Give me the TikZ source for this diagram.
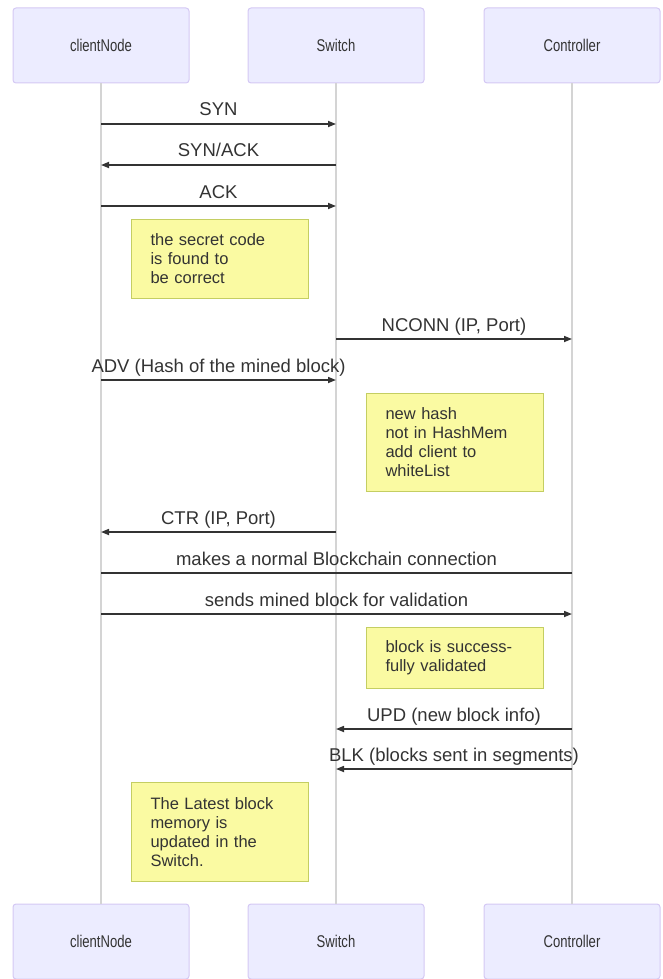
\documentclass[tikz,border=0pt]{standalone}
\usepackage{fontspec}
\setmainfont{Liberation Sans}
\usetikzlibrary{arrows.meta}
\definecolor{actfill}{RGB}{236,236,255}
\definecolor{actdraw}{RGB}{212,200,244}
\definecolor{notefill}{RGB}{250,250,162}
\definecolor{notedraw}{RGB}{196,206,98}
\definecolor{ink}{RGB}{51,51,51}
\definecolor{lifegray}{RGB}{212,212,212}
\tikzset{
  actor/.style={draw=actdraw, fill=actfill, line width=1pt, rounded corners=3pt,
    minimum width=176pt, minimum height=75pt, inner sep=0pt, text=ink,
    font=\fontsize{17}{20}\selectfont},
  life/.style={draw=lifegray, line width=1.5pt},
  msg/.style={draw=ink, line width=1.6pt, -{Triangle[length=8pt,width=6pt]}},
  plainmsg/.style={draw=ink, line width=1.6pt},
  lbl/.style={anchor=base, yshift=8pt, text=ink, inner sep=0pt, font=\fontsize{18.5}{22}\selectfont},
  note/.style={draw=notedraw, fill=notefill, line width=1pt, anchor=north west,
    align=left, text width=139pt, inner xsep=19pt, inner ysep=0pt, text=ink,
    minimum width=177pt, font=\fontsize{16.5}{19}\selectfont}
}
\newcommand{\sq}[1]{\scalebox{0.77}[1]{#1}}
\begin{document}
\begin{tikzpicture}[x=1pt, y=-1pt]
\useasboundingbox (0,0) rectangle (662,979);
% actors
\node[actor] (c1) at (101,45.5) {\sq{clientNode}};
\node[actor] (s1) at (336,45.5) {\sq{Switch}};
\node[actor] (k1) at (572,45.5) {\sq{Controller}};
\node[actor] (c2) at (101,941.5) {\sq{clientNode}};
\node[actor] (s2) at (336,941.5) {\sq{Switch}};
\node[actor] (k2) at (572,941.5) {\sq{Controller}};
% lifelines
\draw[life] (c1.south) -- (c2.north);
\draw[life] (s1.south) -- (s2.north);
\draw[life] (k1.south) -- (k2.north);
% message anchor points
\foreach \n/\y in {syn/124, synack/165, ack/206, nconn/339, adv/380, ctr/532, mk/573, snd/614, upd/729, blk/769} {
  \coordinate (c-\n) at (101,\y);
  \coordinate (s-\n) at (336,\y);
  \coordinate (k-\n) at (572,\y);
}
\draw[msg] (c-syn) -- node[lbl] {SYN} (s-syn);
\draw[msg] (s-synack) -- node[lbl] {SYN/ACK} (c-synack);
\draw[msg] (c-ack) -- node[lbl] {ACK} (s-ack);
\node[note, minimum height=79pt] (n1) at (131,219) {the secret code\\is found to\\be correct};
\draw[msg] (s-nconn) -- node[lbl] {NCONN (IP, Port)} (k-nconn);
\draw[msg] (c-adv) -- node[lbl] {ADV (Hash of the mined block)} (s-adv);
\node[note, minimum height=98pt] (n2) at (366,393) {new hash\\not in HashMem\\add client to\\whiteList};
\draw[msg] (s-ctr) -- node[lbl] {CTR (IP, Port)} (c-ctr);
\draw[plainmsg] (k-mk) -- node[lbl] {makes a normal Blockchain connection} (c-mk);
\draw[msg] (c-snd) -- node[lbl] {sends mined block for validation} (k-snd);
\node[note, minimum height=61pt] (n3) at (366,627) {block is success-\\fully validated};
\draw[msg] (k-upd) -- node[lbl] {UPD (new block info)} (s-upd);
\draw[msg] (k-blk) -- node[lbl] {BLK (blocks sent in segments)} (s-blk);
\node[note, minimum height=99pt] (n4) at (131,782) {The Latest block\\memory is\\updated in the\\Switch.};
\end{tikzpicture}
\end{document}
